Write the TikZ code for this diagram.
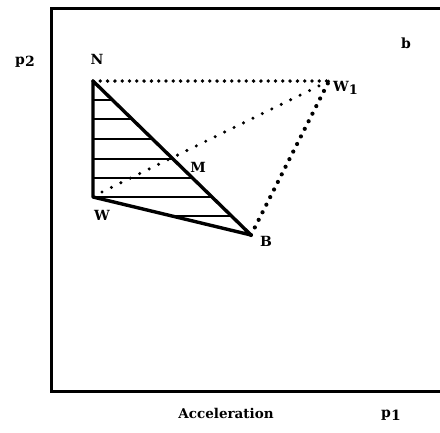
\documentclass[tikz,border=0pt]{standalone}
\usepackage{fontspec}
\setmainfont{DejaVu Serif}
\begin{document}
\begin{tikzpicture}[x=1pt,y=-1pt,
  lbl/.style={font=\bfseries\fontsize{14}{14}\selectfont, inner sep=0pt},
  frame/.style={line width=3pt},
  tri/.style={line width=3.4pt, line join=round},
  hatch/.style={line width=2pt},
  dotsA/.style={line width=3.8pt, line cap=round, dash pattern=on 0pt off 7.3pt},
  dotsB/.style={line width=3.4pt, line cap=round, dash pattern=on 0pt off 10.5pt},
  dotsC/.style={line width=4.2pt, line cap=round, dash pattern=on 0pt off 8.5pt},
]
\useasboundingbox (0,0) rectangle (440,432);
% frame
\draw[frame] (440,8) -- (51,8) -- (51,391) -- (440,391);
% points
\coordinate (N) at (93,81);
\coordinate (W) at (93,197);
\coordinate (B) at (251,235);
\coordinate (W1) at (329,81);
\coordinate (S) at (102,192);
% hatching
\draw[hatch] (93,100) -- (112.4,100);
\draw[hatch] (93,119) -- (131.7,119);
\draw[hatch] (93,139) -- (152.2,139);
\draw[hatch] (93,159) -- (172.6,159);
\draw[hatch] (93,178) -- (191.9,178);
\draw[hatch] (93,197) -- (211.3,197);
\draw[hatch] (172,216) -- (230.6,216);
% triangle
\draw[tri] (N) -- (W) -- (B) -- cycle;
% dotted lines
\draw[dotsA] (N) -- (W1);
\draw[dotsB] (S) -- (W1);
\draw[dotsC] (B) -- (W1);
% labels
\node[lbl] (lN) at (97,59) {N};
\node[lbl] (lW) at (102,215) {W};
\node[lbl] (lB) at (266,241) {B};
\node[lbl] (lM) at (198,167) {M};
\node[lbl, anchor=west] (lW1) at (333,88) {W\raisebox{-0.4ex}{\fontsize{13}{13}\selectfont 1}};
\node[lbl] (lb) at (406,43) {b};
\node[lbl] (lp2) at (25,62) {p\raisebox{-0.3ex}{\fontsize{14}{14}\selectfont 2}};
\node[lbl, font=\bfseries\fontsize{13.5}{13.5}\selectfont] (lacc) at (226,413) {Acceleration};
\node[lbl] (lp1) at (391,415) {p\raisebox{-0.4ex}{\fontsize{14}{14}\selectfont 1}};
\end{tikzpicture}
\end{document}
